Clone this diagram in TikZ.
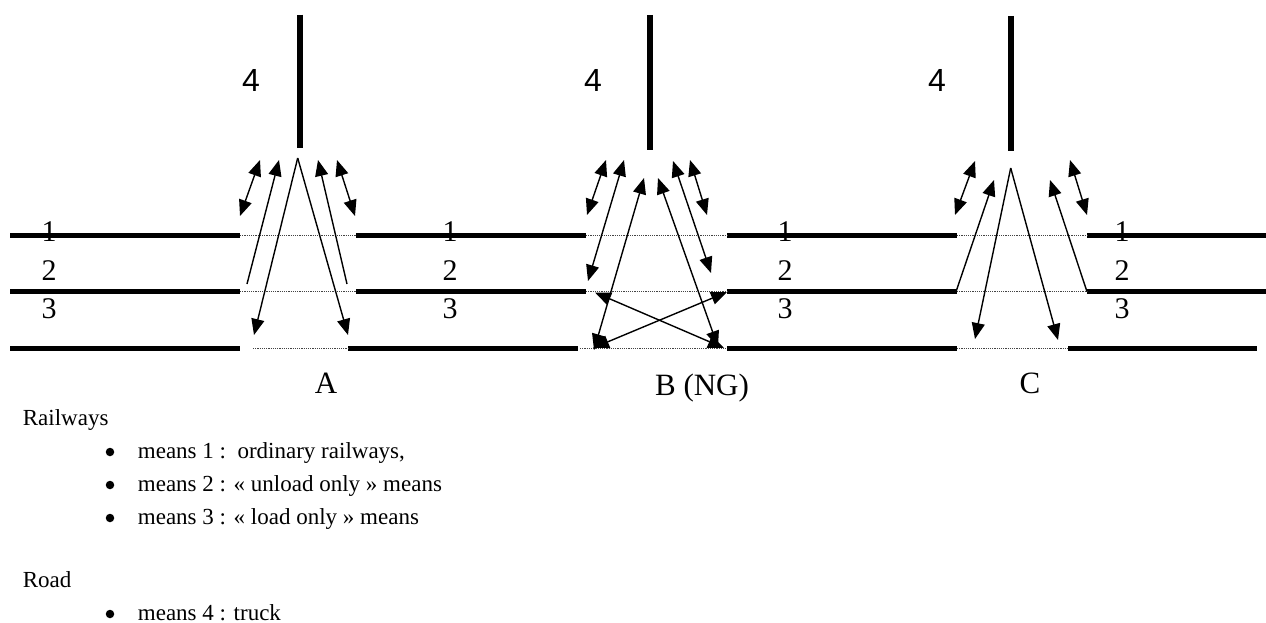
\documentclass[tikz,border=0pt]{standalone}
\usepackage{fontspec}
\setmainfont{Liberation Serif}
\newfontfamily\roadfont{Liberation Sans}
\usepackage{xcolor}
\usetikzlibrary{arrows.meta}
\definecolor{ink}{HTML}{000000}
\definecolor{gapgrey}{HTML}{444444}

\tikzset{
  track/.style={line width=5pt,draw=ink},
  gapline/.style={line width=1.1pt,draw=gapgrey,dash pattern=on 1.2pt off 1pt},
  roadline/.style={line width=5.5pt,draw=ink},
  oneway/.style={line width=1.4pt,draw=ink,-{Triangle[length=16pt,width=13pt]}},
  twoway/.style={line width=1.4pt,draw=ink,
                 {Triangle[length=16pt,width=13pt]}-{Triangle[length=16pt,width=13pt]}},
  tracklbl/.style={font=\fontsize{30}{30}\selectfont,inner sep=0pt,anchor=base},
  roadlbl/.style={font=\roadfont\fontsize{32}{32}\selectfont,inner sep=0pt,anchor=base},
  caselbl/.style={font=\fontsize{31}{31}\selectfont,inner sep=0pt,anchor=base},
  legend/.style={font=\fontsize{23}{27}\selectfont,inner sep=0pt,anchor=base west},
  dot/.style={circle,fill=ink,inner sep=0pt,minimum size=8.5pt},
}

\begin{document}
\begin{tikzpicture}[x=1pt,y=-1pt]
  \useasboundingbox (0,0) rectangle (1266,623);

  % rail tracks 1, 2, 3
  \foreach \ya/\xa/\xb in {235.5/10/240,235.5/356/586,235.5/727/957,235.5/1087/1266,
                           291.7/10/240,291.7/356/586,291.7/727/957,291.7/1087/1266,
                           348.3/10/240,348.3/348/578,348.3/727/957,348.3/1068/1257}
    \draw[track] (\xa,\ya) -- (\xb,\ya);
  \foreach \ya/\xa/\xb in {235.5/240/356,235.5/586/727,235.5/957/1087,
                           291.7/240/356,291.7/586/727,291.7/957/1087,
                           348.3/253/348,348.3/580/727,348.3/957/1068}
    \draw[gapline] (\xa,\ya) -- (\xb,\ya);

  % track numbers
  \foreach \xa/\nm in {49/A,450/B,785/C,1122/D} {
    \node[tracklbl] (one\nm)   at (\xa,241) {1};
    \node[tracklbl] (two\nm)   at (\xa,280) {2};
    \node[tracklbl] (three\nm) at (\xa,318) {3};
  }

  % road 4
  \draw[roadline] (300,14.7) -- (300,148);
  \draw[roadline] (650,15) -- (650,150);
  \draw[roadline] (1011,16) -- (1011,151);
  \node[roadlbl] (fourA) at (251,91.7) {4};
  \node[roadlbl] (fourB) at (593,91.7) {4};
  \node[roadlbl] (fourC) at (937,91.7) {4};

  % case A
  \coordinate (apexA) at (297.7,158);
  \draw[twoway] (240,216) -- (260,160);
  \draw[oneway] (247,284) -- (279,160);
  \draw[oneway] (apexA) -- (254,335);
  \draw[oneway] (apexA) -- (348,335);
  \draw[oneway] (347,284) -- (318,160);
  \draw[twoway] (337,160) -- (355,216);

  % case B (NG)
  \draw[twoway] (587,215) -- (606,160);
  \draw[twoway] (588,281) -- (624,160);
  \draw[twoway] (594,350) -- (644,178);
  \draw[twoway] (658,178) -- (718,347);
  \draw[twoway] (673,161) -- (711,273);
  \draw[twoway] (690,160) -- (707,215);
  \draw[twoway] (595,292.5) -- (724,348);
  \draw[twoway] (593,348) -- (727,292);

  % case C
  \coordinate (apexC) at (1010.7,168);
  \coordinate (endC2) at (956,291.7);
  \coordinate (startD2) at (1087,291.7);
  \draw[twoway] (955,215) -- (975,161);
  \draw[oneway] (endC2) -- (994,180);
  \draw[oneway] (apexC) -- (975,339);
  \draw[oneway] (apexC) -- (1058,340);
  \draw[oneway] (startD2) -- (1050,180);
  \draw[twoway] (1070,160) -- (1087,215);

  \node[caselbl] (caseA) at (326,393) {A};
  \node[caselbl] (caseB) at (702,395) {B (NG)};
  \node[caselbl] (caseC) at (1030,393) {C};

  % legend
  \node[legend] (rail) at (22.7,425) {Railways};
  \node[legend] (mean1) at (137.7,458) {means 1 :\ \ ordinary railways,};
  \node[legend] (mean2) at (137.7,491) {means 2 : « unload only » means};
  \node[legend] (mean3) at (137.7,524) {means 3 : « load only » means};
  \node[legend] (road) at (22.7,587) {Road};
  \node[legend] (mean4) at (137.7,620) {means 4 : truck};
  \foreach \nm in {mean1,mean2,mean3,mean4}
    \node[dot] (dot\nm) at ([xshift=-27.7pt,yshift=6pt]\nm.base west) {};
\end{tikzpicture}
\end{document}
